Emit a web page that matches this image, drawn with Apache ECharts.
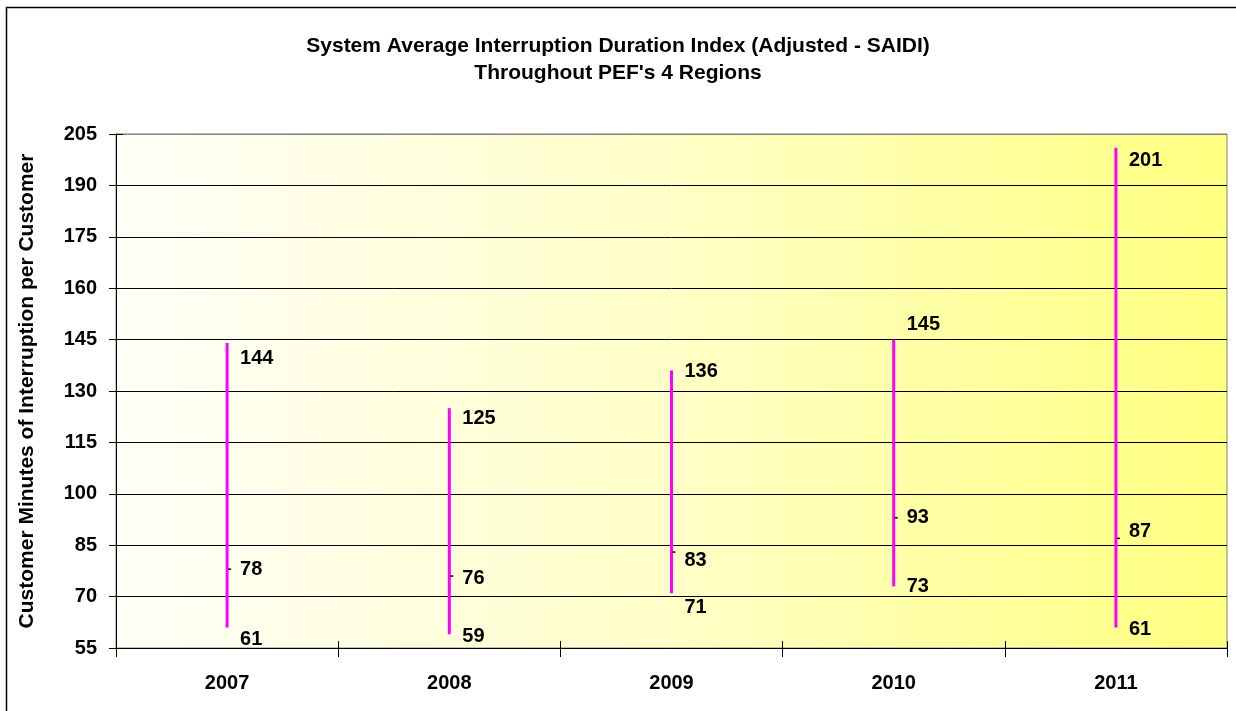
<!DOCTYPE html>
<html>
<head>
<meta charset="utf-8">
<title>SAIDI</title>
<script src="https://cdn.jsdelivr.net/npm/echarts@6/dist/echarts.min.js"></script>
<style>
  html, body { margin: 0; padding: 0; background: #fff; }
  #chart { width: 1236px; height: 711px; }
</style>
</head>
<body>
<div id="chart"></div>
<script>
// data
var years = ["2007", "2008", "2009", "2010", "2011"];
var highVals = [144, 125, 136, 145, 201];
var closeVals = [78, 76, 83, 93, 87];
var lowVals = [61, 59, 71, 73, 61];
var yTicks = { min: 55, max: 205, step: 15 };

// vertical nudge of the data labels (px), to sit where Excel put them
var nudgeHigh = [15, 10, 1, -15, 13];
var nudgeClose = [0, 2, 8, 0, -7];
var nudgeLow = [12, 2, 14, 0, 2];

var labelFont = "Liberation Sans, Arial, sans-serif";

function labelData(vals, nudge) {
  return vals.map(function (v, i) {
    return { value: [i, v], label: { offset: [0, nudge[i]] } };
  });
}

function labelSeries(name, vals, nudge) {
  return {
    name: name,
    type: "scatter",
    symbolSize: 0,
    silent: true,
    z: 5,
    itemStyle: { opacity: 1 },
    data: labelData(vals, nudge),
    label: {
      show: true,
      position: "right",
      distance: 13,
      color: "#000",
      fontSize: 20,
      fontWeight: "bold",
      fontFamily: labelFont,
      formatter: function (p) { return p.value[1]; }
    }
  };
}

// split line colours: black except the top one, which is the gray plot border
var splitColors = [];
for (var t = yTicks.min; t <= yTicks.max; t += yTicks.step) {
  splitColors.push(t === yTicks.max ? "#808080" : "#000");
}

var myChart = echarts.init(document.getElementById("chart"));
myChart.setOption({
  animation: false,
  title: {
    text: "System Average Interruption Duration Index (Adjusted - SAIDI)\nThroughout PEF's 4 Regions",
    left: "center",
    top: 28,
    textStyle: {
      color: "#000",
      fontSize: 21,
      fontWeight: "bold",
      fontFamily: labelFont,
      lineHeight: 27
    }
  },
  graphic: [
    {
      type: "rect",
      shape: { x: 6.5, y: 7.5, width: 1300, height: 800 },
      style: { fill: "none", stroke: "#000", lineWidth: 1.5 },
      silent: true
    }
  ],
  grid: {
    left: 116,
    right: 9,
    top: 134,
    bottom: 63,
    show: true,
    borderColor: "#808080",
    borderWidth: 1,
    backgroundColor: new echarts.graphic.LinearGradient(0, 0, 1, 0, [
      { offset: 0, color: "#fffff8" },
      { offset: 0.5, color: "#ffffc8" },
      { offset: 1, color: "#ffff80" }
    ])
  },
  xAxis: [
    {
      type: "category",
      data: years,
      boundaryGap: true,
      axisLine: { lineStyle: { color: "#000", width: 1 } },
      axisTick: { show: true, length: 9, lineStyle: { color: "#000" } },
      axisLabel: {
        margin: 25,
        color: "#000",
        fontSize: 20,
        fontWeight: "bold",
        fontFamily: labelFont
      },
      splitLine: { show: false }
    },
    {
      // inner half of the crossing tick marks
      type: "category",
      data: years,
      position: "bottom",
      boundaryGap: true,
      axisLine: { show: false },
      axisTick: { show: true, inside: true, length: 7, lineStyle: { color: "#000" } },
      axisLabel: { show: false },
      splitLine: { show: false }
    }
  ],
  yAxis: [
    {
      type: "value",
      min: yTicks.min,
      max: yTicks.max,
      interval: yTicks.step,
      name: "Customer Minutes of Interruption per Customer",
      nameLocation: "middle",
      nameRotate: 90,
      nameGap: 78,
      nameTextStyle: {
        color: "#000",
        fontSize: 21,
        fontWeight: "bold",
        fontFamily: labelFont
      },
      axisLine: { show: true, lineStyle: { color: "#000", width: 1 } },
      axisTick: { show: true, length: 7, lineStyle: { color: "#000" } },
      axisLabel: {
        margin: 19,
        color: "#000",
        fontSize: 20,
        fontWeight: "bold",
        fontFamily: labelFont
      },
      splitLine: { show: true, lineStyle: { color: splitColors, width: 1 } }
    },
    {
      type: "value",
      min: yTicks.min,
      max: yTicks.max,
      interval: yTicks.step,
      position: "left",
      axisLine: { show: false },
      axisTick: { show: true, inside: true, length: 7, lineStyle: { color: "#000" } },
      axisLabel: { show: false },
      splitLine: { show: false }
    }
  ],
  series: [
    {
      name: "hlc",
      type: "custom",
      z: 4,
      silent: true,
      data: years.map(function (y, i) {
        return [i, lowVals[i], highVals[i], closeVals[i]];
      }),
      encode: { x: 0, y: [1, 2, 3] },
      renderItem: function (params, api) {
        var lo = api.coord([api.value(0), api.value(1)]);
        var hi = api.coord([api.value(0), api.value(2)]);
        var cl = api.coord([api.value(0), api.value(3)]);
        return {
          type: "group",
          children: [
            {
              type: "line",
              shape: { x1: lo[0], y1: lo[1], x2: hi[0], y2: hi[1] },
              style: { stroke: "#ff00ff", lineWidth: 3 }
            },
            {
              type: "line",
              shape: { x1: cl[0] + 1, y1: cl[1], x2: cl[0] + 4, y2: cl[1] },
              style: { stroke: "#000", lineWidth: 1.5 }
            }
          ]
        };
      }
    },
    labelSeries("High", highVals, nudgeHigh),
    labelSeries("Close", closeVals, nudgeClose),
    labelSeries("Low", lowVals, nudgeLow)
  ]
});
</script>
</body>
</html>
